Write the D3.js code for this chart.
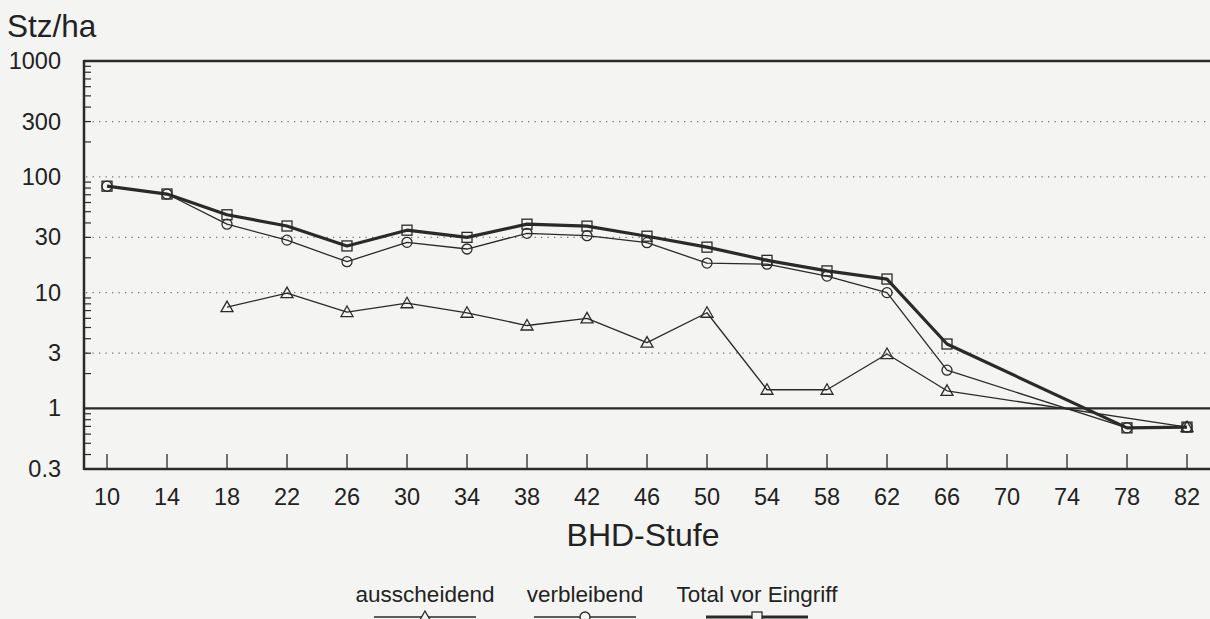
<!DOCTYPE html>
<html>
<head>
<meta charset="utf-8">
<script src="https://cdn.jsdelivr.net/npm/d3@7"></script>
<style>
  body { margin: 0; background: #f4f4f2; }
  svg { display: block; font-family: "Liberation Sans", Arial, sans-serif; }
</style>
</head>
<body>
<script>
// BHD classes and stems per ha
var bhd = [10, 14, 18, 22, 26, 30, 34, 38, 42, 46, 50, 54, 58, 62, 66, 70, 74, 78, 82];
var ausscheidend = [null, null, 7.5, 9.9, 6.8, 8.1, 6.7, 5.2, 6.0, 3.7, 6.7, 1.45, 1.45, 2.95, 1.42, null, null, null, 0.69];
var verbleibend = [83, 71, 39, 28.4, 18.5, 27.2, 23.8, 32.5, 31, 27, 18, 17.6, 13.9, 10, 2.14, null, null, 0.68, 0.69];
var total = [83, 71, 47, 37.6, 25.3, 34.6, 30, 39, 37.5, 30.7, 24.7, 19, 15.4, 13.1, 3.6, null, null, 0.68, 0.69];

var yTicks = [0.3, 1, 3, 10, 30, 100, 300, 1000];
var yGrid = [3, 10, 30, 100, 300];
var seriesNames = ["ausscheidend", "verbleibend", "Total vor Eingriff"];

var width = 1210, height = 619;
var ink = "#2a2a2a";

var svg = d3.select("body").append("svg")
    .attr("width", width)
    .attr("height", height);

var x = d3.scaleLinear().domain([10, 82]).range([107, 1187]);
var y = d3.scaleLog().domain([0.3, 1000]).range([469, 61]);
var left = 84, right = width;

//////////////////// grid ////////////////////
svg.append("g").selectAll("line")
    .data(yGrid).enter().append("line")
    .attr("x1", left + 2).attr("x2", right)
    .attr("y1", d => y(d)).attr("y2", d => y(d))
    .attr("stroke", "#777")
    .attr("stroke-width", 1.2)
    .attr("stroke-dasharray", "1.3,5.2");

// minor ticks on the left axis
var minor = [];
[0.1, 1, 10, 100].forEach(function(dec) {
  for (var k = 2; k <= 9; k++) {
    var v = dec * k;
    if (v > 0.3 && v < 1000) minor.push(v);
  }
});
svg.append("g").selectAll("line")
    .data(minor).enter().append("line")
    .attr("x1", left).attr("x2", left + 7)
    .attr("y1", d => y(d)).attr("y2", d => y(d))
    .attr("stroke", ink).attr("stroke-width", 1.2);

// x ticks (upward)
svg.append("g").selectAll("line")
    .data(bhd).enter().append("line")
    .attr("x1", d => x(d)).attr("x2", d => x(d))
    .attr("y1", 469).attr("y2", 454)
    .attr("stroke", ink).attr("stroke-width", 1.3);

//////////////////// frame ////////////////////
svg.append("line").attr("x1", left).attr("x2", right)
    .attr("y1", y(1000)).attr("y2", y(1000))
    .attr("stroke", ink).attr("stroke-width", 2.5);
svg.append("line").attr("x1", left).attr("x2", right)
    .attr("y1", y(0.3)).attr("y2", y(0.3))
    .attr("stroke", ink).attr("stroke-width", 2.5);
svg.append("line").attr("x1", left).attr("x2", right)
    .attr("y1", y(1)).attr("y2", y(1))
    .attr("stroke", ink).attr("stroke-width", 2.2);
svg.append("line").attr("x1", left).attr("x2", left)
    .attr("y1", y(1000) - 1).attr("y2", y(0.3) + 1)
    .attr("stroke", ink).attr("stroke-width", 2.5);

//////////////////// labels ////////////////////
svg.append("g").selectAll("text")
    .data(yTicks).enter().append("text")
    .attr("x", 61).attr("y", d => y(d) + 8)
    .attr("text-anchor", "end")
    .attr("font-size", 23.5)
    .attr("fill", "#222")
    .text(d => d);

svg.append("g").selectAll("text")
    .data(bhd).enter().append("text")
    .attr("x", d => x(d)).attr("y", 505)
    .attr("text-anchor", "middle")
    .attr("font-size", 23.5)
    .attr("fill", "#222")
    .text(d => d);

svg.append("text").attr("x", 7).attr("y", 37)
    .attr("font-size", 31.5).attr("fill", "#222")
    .text("Stz/ha");

svg.append("text").attr("x", 643).attr("y", 546)
    .attr("text-anchor", "middle")
    .attr("font-size", 32).attr("fill", "#222")
    .text("BHD-Stufe");

//////////////////// series ////////////////////
function pts(vals) {
  return bhd.map((b, i) => ({ b: b, v: vals[i] })).filter(d => d.v != null);
}
var line = d3.line().x(d => x(d.b)).y(d => y(d.v));

function marker(sel, type, fill) {
  if (type == "tri") {
    sel.append("path").attr("d", "M0,-6L6,4.5L-6,4.5Z");
  } else if (type == "circ") {
    sel.append("circle").attr("r", 5);
  } else {
    sel.append("rect").attr("x", -5).attr("y", -5).attr("width", 10).attr("height", 10);
  }
  sel.attr("fill", fill).attr("stroke", ink).attr("stroke-width", 1.3);
}

var series = [
  { name: seriesNames[0], vals: ausscheidend, type: "tri", w: 1.3 },
  { name: seriesNames[1], vals: verbleibend, type: "circ", w: 1.3 },
  { name: seriesNames[2], vals: total, type: "sq", w: 3.2 }
];

series.forEach(function(s) {
  svg.append("path")
      .datum(pts(s.vals))
      .attr("d", line)
      .attr("fill", "none")
      .attr("stroke", ink)
      .attr("stroke-width", s.w)
      .attr("stroke-linejoin", "round");
});
// markers: total underneath, ausscheidend on top
series.slice().reverse().forEach(function(s) {
  svg.append("g").selectAll("g")
      .data(pts(s.vals)).enter().append("g")
      .attr("transform", d => "translate(" + x(d.b) + "," + y(d.v) + ")")
      .each(function() { marker(d3.select(this), s.type, "none"); });
});

//////////////////// legend ////////////////////
var legX = [425, 585, 757];
var legend = svg.append("g").selectAll("g")
    .data(series).enter().append("g")
    .attr("transform", (d, i) => "translate(" + legX[i] + ",0)");
legend.append("text")
    .attr("y", 602)
    .attr("text-anchor", "middle")
    .attr("font-size", 22.5)
    .attr("fill", "#222")
    .text(d => d.name);
legend.append("line")
    .attr("x1", -51).attr("x2", 51)
    .attr("y1", 617).attr("y2", 617)
    .attr("stroke", ink)
    .attr("stroke-width", d => d.w);
legend.append("g")
    .attr("transform", "translate(0,617)")
    .each(function(d) { marker(d3.select(this), d.type, "#f4f4f2"); });
</script>
</body>
</html>
